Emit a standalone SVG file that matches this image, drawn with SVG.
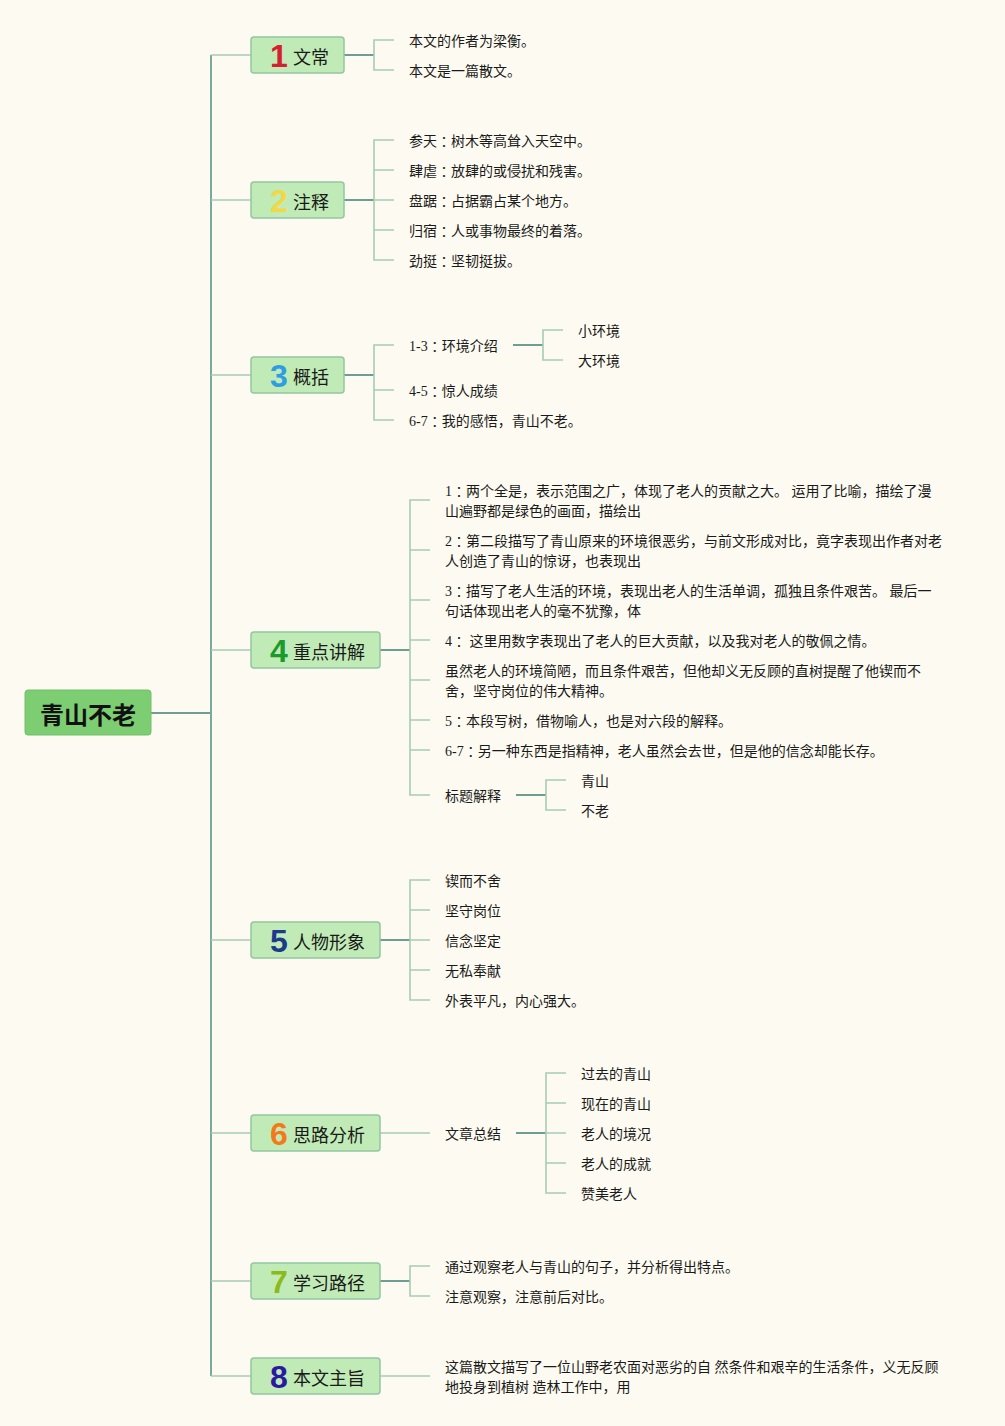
<svg xmlns="http://www.w3.org/2000/svg" width="1005" height="1426" viewBox="0 0 1005 1426">
<style>
.bg{fill:#fdfbf1}
.root{fill:#7dcd73;stroke:#72c068;stroke-width:1}
.rt{font-family:"Noto Sans CJK SC",sans-serif;font-size:24px;font-weight:bold;fill:#111}
.nd{fill:#c1ebb6;stroke:#93c6a2;stroke-width:1.5}
.num{font-family:"Liberation Sans","DejaVu Sans",sans-serif;font-size:32px;font-weight:bold}
.nt{font-family:"Noto Sans CJK SC",sans-serif;font-size:18px;fill:#1a1a1a}
.lf{font-family:"Liberation Serif","Noto Sans CJK SC",serif;font-size:14px;fill:#1a1a1a}
.c{font-family:"Noto Sans CJK TC",sans-serif}
.trunk{stroke:#7aa99d;stroke-width:2;fill:none}
.stub{stroke:#6d9d93;stroke-width:2;fill:none}
.tick{stroke:#a6ccb6;stroke-width:1.6;fill:none}
</style>
<rect class="bg" x="0" y="0" width="1005" height="1426"/>

<g id="connectors">
  <path class="stub" d="M151 713 H211"/>
  <path class="trunk" d="M211 55 V1376"/>
  <path class="tick" d="M211 55 H251 M211 200 H251 M211 375 H251 M211 650 H251 M211 940 H251 M211 1133 H251 M211 1281 H251 M211 1376 H251"/>
  <path class="stub" d="M344 55 H374"/>
  <path class="tick" d="M394 40 H374 V70 H394"/>
  <path class="stub" d="M344 200 H374"/>
  <path class="tick" d="M394 140 H374 V260 H394 M374 170 H394 M374 200 H394 M374 230 H394"/>
  <path class="stub" d="M344 375 H374"/>
  <path class="tick" d="M394 345 H374 V420 H394 M374 390 H394"/>
  <path class="stub" d="M513 345 H543"/>
  <path class="tick" d="M563 330 H543 V360 H563"/>
  <path class="stub" d="M380 650 H410"/>
  <path class="tick" d="M430 500 H410 V795 H430 M410 550 H430 M410 600 H430 M410 640 H430 M410 680 H430 M410 720 H430 M410 750 H430"/>
  <path class="stub" d="M516 795 H546"/>
  <path class="tick" d="M566 780 H546 V810 H566"/>
  <path class="stub" d="M380 940 H410"/>
  <path class="tick" d="M430 880 H410 V1000 H430 M410 910 H430 M410 940 H430 M410 970 H430"/>
  <path class="tick" d="M380 1133 H430"/>
  <path class="stub" d="M516 1133 H546"/>
  <path class="tick" d="M566 1073 H546 V1193 H566 M546 1103 H566 M546 1133 H566 M546 1163 H566"/>
  <path class="stub" d="M380 1281 H410"/>
  <path class="tick" d="M430 1266 H410 V1296 H430"/>
  <path class="tick" d="M380 1376 H430"/>
</g>

<g id="root">
  <rect class="root" x="25" y="690" width="126" height="45" rx="3"/>
  <text class="rt" x="88" y="713" text-anchor="middle" dominant-baseline="central">青山不老</text>
</g>

<g id="n1">
  <rect class="nd" x="251" y="37" width="93" height="36" rx="3"/>
  <text class="num" x="279" y="56" text-anchor="middle" dominant-baseline="central" fill="#d42030">1</text>
  <text class="nt" x="293" y="56" dominant-baseline="central">文常</text>
</g>
<g id="n1-leaves">
  <text class="lf" x="409" y="41" dominant-baseline="central">本文的作者为梁衡。</text>
  <text class="lf" x="409" y="71" dominant-baseline="central">本文是一篇散文。</text>
</g>

<g id="n2">
  <rect class="nd" x="251" y="182" width="93" height="36" rx="3"/>
  <text class="num" x="279" y="201" text-anchor="middle" dominant-baseline="central" fill="#f0d848">2</text>
  <text class="nt" x="293" y="201" dominant-baseline="central">注释</text>
</g>
<g id="n2-leaves">
  <text class="lf" x="409" y="141" dominant-baseline="central">参天<tspan class="c">：</tspan>树木等高耸入天空中。</text>
  <text class="lf" x="409" y="171" dominant-baseline="central">肆虐<tspan class="c">：</tspan>放肆的或侵扰和残害。</text>
  <text class="lf" x="409" y="201" dominant-baseline="central">盘踞<tspan class="c">：</tspan>占据霸占某个地方。</text>
  <text class="lf" x="409" y="231" dominant-baseline="central">归宿<tspan class="c">：</tspan>人或事物最终的着落。</text>
  <text class="lf" x="409" y="261" dominant-baseline="central">劲挺<tspan class="c">：</tspan>坚韧挺拔。</text>
</g>

<g id="n3">
  <rect class="nd" x="251" y="357" width="93" height="36" rx="3"/>
  <text class="num" x="279" y="376" text-anchor="middle" dominant-baseline="central" fill="#2f9ee0">3</text>
  <text class="nt" x="293" y="376" dominant-baseline="central">概括</text>
</g>
<g id="n3-leaves">
  <text class="lf" x="409" y="346" dominant-baseline="central">1-3<tspan class="c">：</tspan>环境介绍</text>
  <text class="lf" x="578" y="331" dominant-baseline="central">小环境</text>
  <text class="lf" x="578" y="361" dominant-baseline="central">大环境</text>
  <text class="lf" x="409" y="391" dominant-baseline="central">4-5<tspan class="c">：</tspan>惊人成绩</text>
  <text class="lf" x="409" y="421" dominant-baseline="central">6-7<tspan class="c">：</tspan>我的感悟，青山不老。</text>
</g>

<g id="n4">
  <rect class="nd" x="251" y="632" width="129" height="36" rx="3"/>
  <text class="num" x="279" y="651" text-anchor="middle" dominant-baseline="central" fill="#1c9a2c">4</text>
  <text class="nt" x="293" y="651" dominant-baseline="central">重点讲解</text>
</g>
<g id="n4-leaves">
  <text class="lf" x="445" y="491" dominant-baseline="central">1<tspan class="c">：</tspan>两个全是，表示范围之广，体现了老人的贡献之大。 运用了比喻，描绘了漫</text>
  <text class="lf" x="445" y="511" dominant-baseline="central">山遍野都是绿色的画面，描绘出</text>
  <text class="lf" x="445" y="541" dominant-baseline="central">2<tspan class="c">：</tspan>第二段描写了青山原来的环境很恶劣，与前文形成对比，竟字表现出作者对老</text>
  <text class="lf" x="445" y="561" dominant-baseline="central">人创造了青山的惊讶，也表现出</text>
  <text class="lf" x="445" y="591" dominant-baseline="central">3<tspan class="c">：</tspan>描写了老人生活的环境，表现出老人的生活单调，孤独且条件艰苦。 最后一</text>
  <text class="lf" x="445" y="611" dominant-baseline="central">句话体现出老人的毫不犹豫，体</text>
  <text class="lf" x="445" y="641" dominant-baseline="central">4<tspan class="c">：</tspan> 这里用数字表现出了老人的巨大贡献，以及我对老人的敬佩之情。</text>
  <text class="lf" x="445" y="671" dominant-baseline="central">虽然老人的环境简陋，而且条件艰苦，但他却义无反顾的直树提醒了他锲而不</text>
  <text class="lf" x="445" y="691" dominant-baseline="central">舍，坚守岗位的伟大精神。</text>
  <text class="lf" x="445" y="721" dominant-baseline="central">5<tspan class="c">：</tspan>本段写树，借物喻人，也是对六段的解释。</text>
  <text class="lf" x="445" y="751" dominant-baseline="central">6-7<tspan class="c">：</tspan>另一种东西是指精神，老人虽然会去世，但是他的信念却能长存。</text>
  <text class="lf" x="445" y="796" dominant-baseline="central">标题解释</text>
  <text class="lf" x="581" y="781" dominant-baseline="central">青山</text>
  <text class="lf" x="581" y="811" dominant-baseline="central">不老</text>
</g>

<g id="n5">
  <rect class="nd" x="251" y="922" width="129" height="36" rx="3"/>
  <text class="num" x="279" y="941" text-anchor="middle" dominant-baseline="central" fill="#1e3a8c">5</text>
  <text class="nt" x="293" y="941" dominant-baseline="central">人物形象</text>
</g>
<g id="n5-leaves">
  <text class="lf" x="445" y="881" dominant-baseline="central">锲而不舍</text>
  <text class="lf" x="445" y="911" dominant-baseline="central">坚守岗位</text>
  <text class="lf" x="445" y="941" dominant-baseline="central">信念坚定</text>
  <text class="lf" x="445" y="971" dominant-baseline="central">无私奉献</text>
  <text class="lf" x="445" y="1001" dominant-baseline="central">外表平凡，内心强大。</text>
</g>

<g id="n6">
  <rect class="nd" x="251" y="1115" width="129" height="36" rx="3"/>
  <text class="num" x="279" y="1134" text-anchor="middle" dominant-baseline="central" fill="#f27a1a">6</text>
  <text class="nt" x="293" y="1134" dominant-baseline="central">思路分析</text>
</g>
<g id="n6-leaves">
  <text class="lf" x="445" y="1134" dominant-baseline="central">文章总结</text>
  <text class="lf" x="581" y="1074" dominant-baseline="central">过去的青山</text>
  <text class="lf" x="581" y="1104" dominant-baseline="central">现在的青山</text>
  <text class="lf" x="581" y="1134" dominant-baseline="central">老人的境况</text>
  <text class="lf" x="581" y="1164" dominant-baseline="central">老人的成就</text>
  <text class="lf" x="581" y="1194" dominant-baseline="central">赞美老人</text>
</g>

<g id="n7">
  <rect class="nd" x="251" y="1263" width="129" height="36" rx="3"/>
  <text class="num" x="279" y="1282" text-anchor="middle" dominant-baseline="central" fill="#8cba1a">7</text>
  <text class="nt" x="293" y="1282" dominant-baseline="central">学习路径</text>
</g>
<g id="n7-leaves">
  <text class="lf" x="445" y="1267" dominant-baseline="central">通过观察老人与青山的句子，并分析得出特点。</text>
  <text class="lf" x="445" y="1297" dominant-baseline="central">注意观察，注意前后对比。</text>
</g>

<g id="n8">
  <rect class="nd" x="251" y="1358" width="129" height="36" rx="3"/>
  <text class="num" x="279" y="1377" text-anchor="middle" dominant-baseline="central" fill="#2a1aa2">8</text>
  <text class="nt" x="293" y="1377" dominant-baseline="central">本文主旨</text>
</g>
<g id="n8-leaves">
  <text class="lf" x="445" y="1367" dominant-baseline="central">这篇散文描写了一位山野老农面对恶劣的自 然条件和艰辛的生活条件，义无反顾</text>
  <text class="lf" x="445" y="1387" dominant-baseline="central">地投身到植树 造林工作中，用</text>
</g>
</svg>
